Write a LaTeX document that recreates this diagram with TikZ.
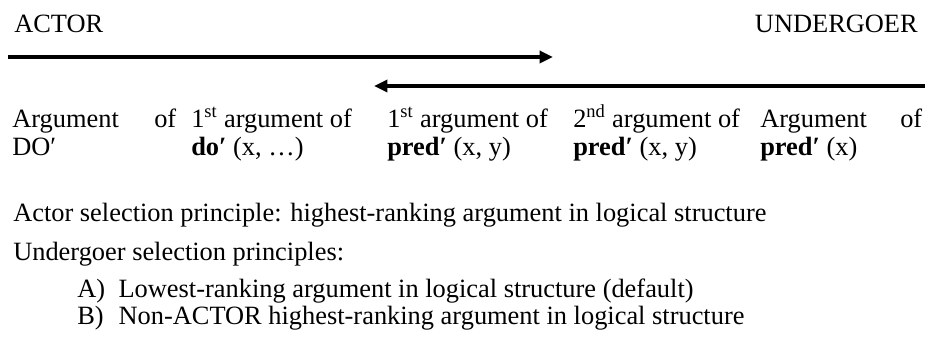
\documentclass[tikz,border=0pt]{standalone}
\usepackage{fontspec}
\setmainfont{Liberation Serif}
\usetikzlibrary{arrows.meta}

\begin{document}
\begin{tikzpicture}[x=0.75pt, y=-0.75pt,
	txt/.style={font=\fontsize{19.8}{20.3}\selectfont, inner sep=0pt, anchor=base west},
	cell/.style={txt, text width=#1, align=justify},
	argbox/.style={txt, text width=130pt, align=flush left},
	role/.style={-{Triangle[length=10pt, width=9pt]}, line width=3pt}]
	\useasboundingbox (0,0) rectangle (925,356);
	% macroroles
	\node[txt] (actor) at (14,33) {ACTOR};
	\node[txt, anchor=base east] (undergoer) at (918,33) {UNDERGOER};
	\coordinate (actorstart) at (8,57);
	\coordinate (actorend) at (553,57);
	\coordinate (ugstart) at (925,86);
	\coordinate (ugend) at (374,86);
	\draw[role] (actorstart) -- (actorend);
	\draw[role] (ugstart) -- (ugend);
	% argument positions
	\node[cell=123pt] (argdo) at (12,128) {Argument of DO′};
	\foreach \x/\n/\l in {191/firstdo/{1\textsuperscript{st} argument of\\\textbf{do′} (x, …)}, 387/firstpred/{1\textsuperscript{st} argument of\\\textbf{pred′} (x, y)}, 573/secondpred/{2\textsuperscript{nd} argument of\\\textbf{pred′} (x, y)}} {\node[argbox] (\n) at (\x,128) {\l};}
	\node[cell=121.5pt] (argpred) at (760,128) {Argument of \textbf{pred′} (x)};
	% selection principles
	\node[txt] (actorsel) at (13,222) {Actor selection principle: highest-ranking argument in logical structure};
	\node[txt] (ugsel) at (13,260) {Undergoer selection principles:};
	\node[txt] (ugsela) at (77,297) {\makebox[31pt][l]{A)}Lowest-ranking argument in logical structure (default)};
	\node[txt] (ugselb) at (77,324) {\makebox[31pt][l]{B)}Non-ACTOR highest-ranking argument in logical structure};
\end{tikzpicture}
\end{document}
